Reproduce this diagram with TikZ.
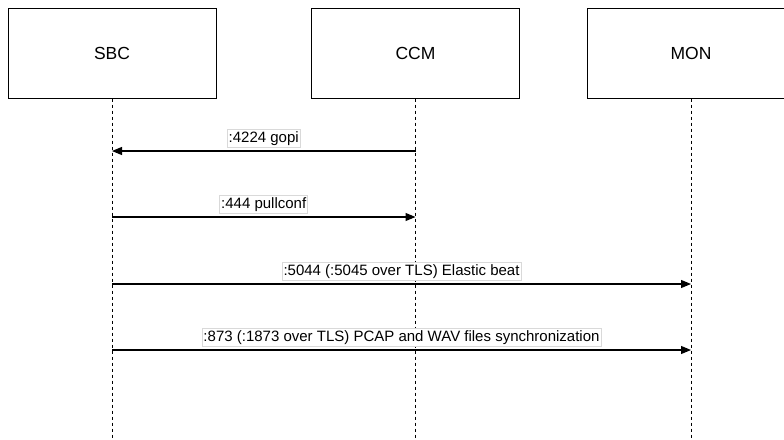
\documentclass[tikz,border=0pt]{standalone}
\usepackage{fontspec}
\setmainfont{Liberation Sans}
\usetikzlibrary{arrows.meta}

\begin{document}
\begin{tikzpicture}[x=1pt, y=-1pt,
                actor/.style={draw, line width=1pt, minimum width=208pt, minimum height=90pt, font=\fontsize{17.5}{20}\selectfont},
                life/.style={line width=0.9pt, dash pattern=on 3pt off 3pt},
                msg/.style={-{Triangle[length=10pt, width=8pt]}, line width=1.1pt},
                lbl/.style={fill=white, draw=black!15, line width=0.6pt, inner xsep=1.5pt, inner ysep=2pt, font=\fontsize{15}{18}\selectfont}]
                        \clip (0, 0) rectangle (784, 439);
                        % participants
                        \node[actor] (sbc) at (112, 53){SBC};
                        \node[actor] (ccm) at (415.5, 53){CCM};
                        \node[actor] (mon) at (691, 53){MON};
                        \coordinate (sbcend) at (112, 439);
                        \coordinate (ccmend) at (415.5, 439);
                        \coordinate (monend) at (691, 439);
                        \draw[life] (sbc.south) -- (sbcend);
                        \draw[life] (ccm.south) -- (ccmend);
                        \draw[life] (mon.south) -- (monend);
                        % points on the lifelines
                        \coordinate (sbc1) at (112, 151);
                        \coordinate (ccm1) at (415.5, 151);
                        \coordinate (sbc2) at (112, 217);
                        \coordinate (ccm2) at (415.5, 217);
                        \coordinate (sbc3) at (112, 284);
                        \coordinate (mon3) at (691, 284);
                        \coordinate (sbc4) at (112, 350);
                        \coordinate (mon4) at (691, 350);
                        % messages
                        \draw[msg] (ccm1) -- node[lbl, midway, above=3pt]{:4224 gopi} (sbc1);
                        \draw[msg] (sbc2) -- node[lbl, midway, above=3pt]{:444 pullconf} (ccm2);
                        \draw[msg] (sbc3) -- node[lbl, midway, above=3pt]{:5044 (:5045 over TLS) Elastic beat} (mon3);
                        \draw[msg] (sbc4) -- node[lbl, midway, above=3pt]{:873 (:1873 over TLS) PCAP and WAV files synchronization} (mon4);
                \end{tikzpicture}
\end{document}
